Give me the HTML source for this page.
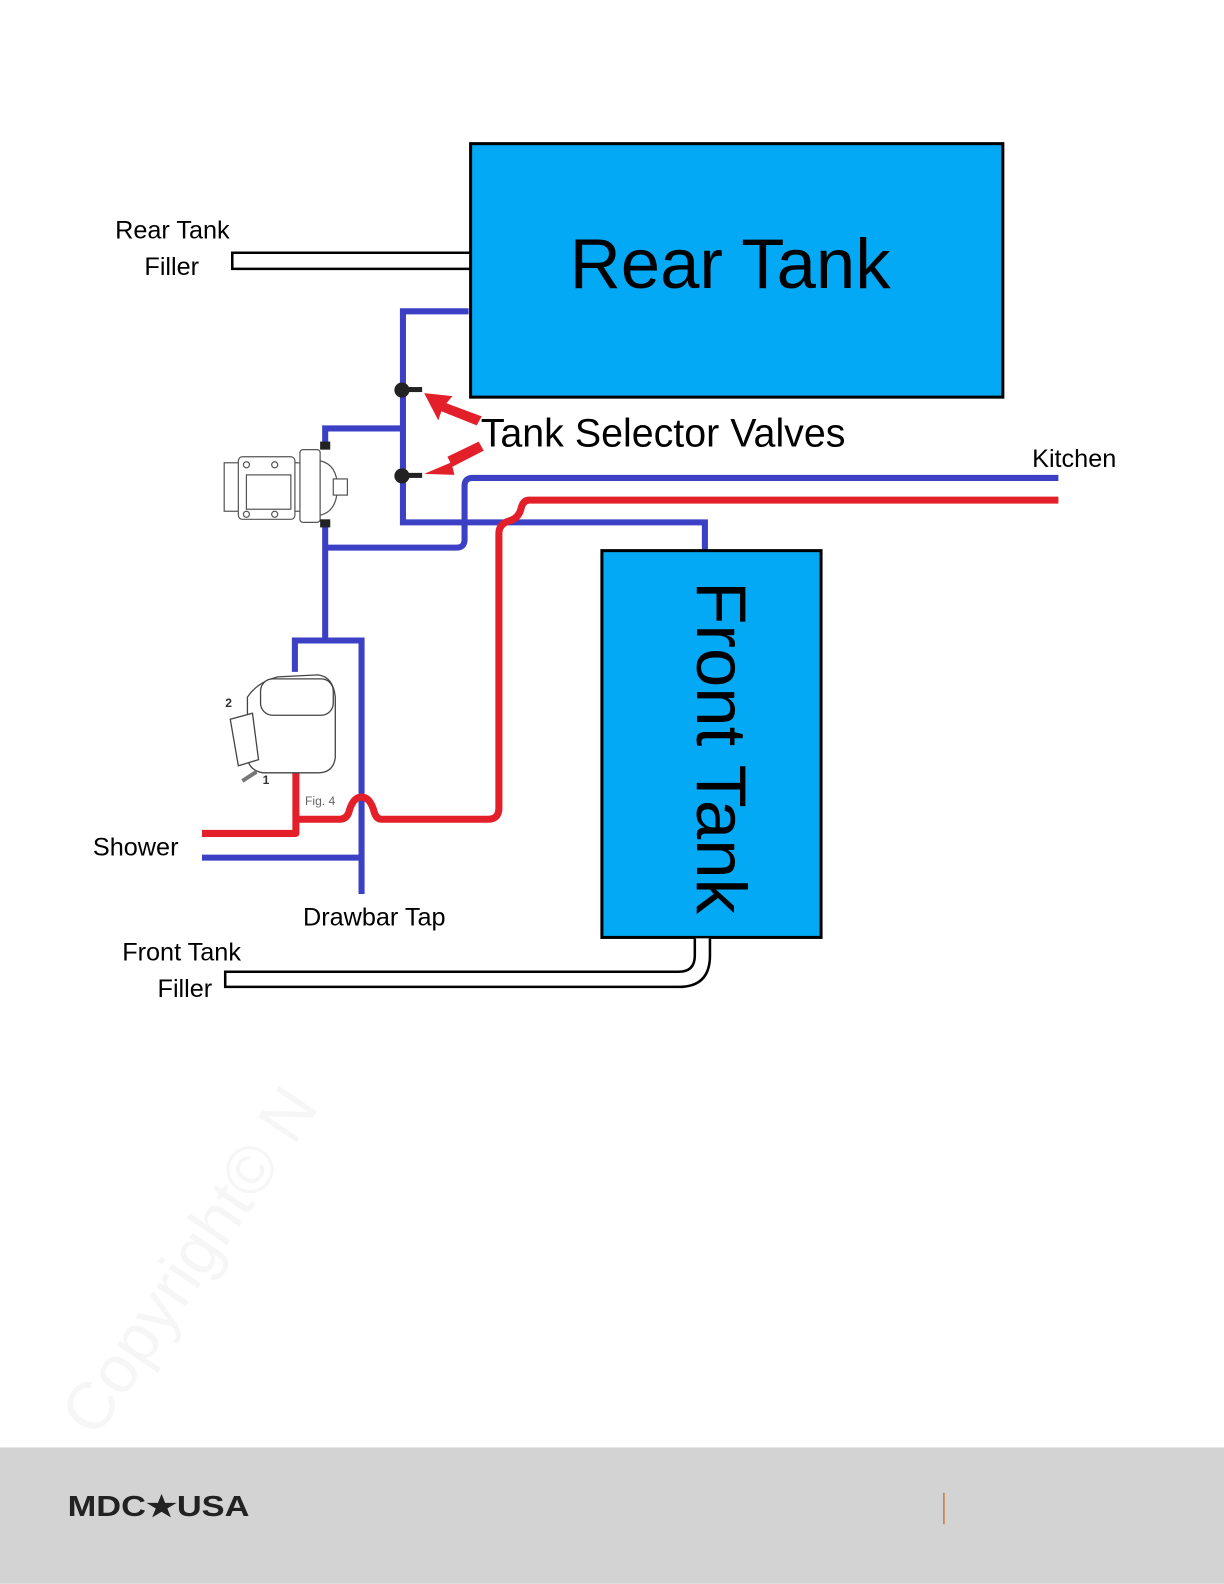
<!DOCTYPE html>
<html><head><meta charset="utf-8"><style>
html,body{margin:0;padding:0;background:#fff;}
svg{display:block;}
text{font-family:"Liberation Sans",sans-serif;}
</style></head><body>
<svg width="1224" height="1584" viewBox="0 0 1212 1568" xmlns="http://www.w3.org/2000/svg">
<rect x="0" y="0" width="1212" height="1568" fill="#fff"/>
<!-- watermark -->
<text x="0" y="0" font-size="66" fill="#f6f6f6" transform="translate(95,1425) rotate(-56)">Copyright© N</text>

<!-- Rear tank filler -->
<path d="M466,250 H230 V266 H466" fill="#fff" stroke="#000" stroke-width="2.5"/>
<text x="114" y="236" font-size="25">Rear Tank</text>
<text x="143" y="272" font-size="25">Filler</text>

<!-- Rear tank -->
<rect x="466" y="142" width="527" height="251" fill="#03a9f4" stroke="#000" stroke-width="3"/>
<text x="723" y="285" font-size="70" text-anchor="middle">Rear Tank</text>

<!-- blue pipes -->
<g fill="none" stroke="#3b40c4" stroke-width="6" stroke-linejoin="miter">
<path d="M464,308 H399 V517 H698 V545"/>
<path d="M399,424 H322 V442"/>
<path d="M322,518 V632"/>
<path d="M322,542 H452 Q460,542 460,534 V481 Q460,473 468,473 H1048"/>
<path d="M292,665 V634 H358 V885"/>
<path d="M200,849 H358"/>
</g>
<!-- red pipes -->
<g fill="none" stroke="#e3202a" stroke-width="7" stroke-linejoin="round">
<path d="M1048,495 H524 Q518,495 516,503 Q514,512 506,515 Q494,518 494,528 V800 Q494,811 483,811 H378 Q372,811 370,802 Q366,789 358,789 Q350,789 346,802 Q344,811 336,811 H293"/>
<path d="M293,765 V825 H200"/>
</g>

<!-- valves -->
<g fill="#222">
<circle cx="398" cy="386" r="7.5"/><rect x="398" y="383" width="20" height="5"/>
<circle cx="398" cy="471" r="7.5"/><rect x="398" y="468" width="20" height="5"/>
</g>
<!-- red arrows -->
<g fill="#e3202a">
<polygon points="420,389 448,392 442,399 477,412 472,421 437,407 434,416"/>
<polygon points="420,469 446,458 443,452 474,437 479,446 448,462 450,470"/>
</g>
<text x="476" y="442" font-size="39">Tank Selector Valves</text>
<text x="1022" y="462" font-size="25">Kitchen</text>

<!-- pump -->
<g fill="#fff" stroke="#555" stroke-width="1.2">
<rect x="222" y="458" width="78" height="48"/>
<rect x="236" y="452" width="56" height="62" rx="4"/>
<rect x="244" y="470" width="44" height="34"/>
<rect x="297" y="445" width="20" height="72" rx="3"/>
<path d="M317,456 Q334,460 334,482 Q334,506 317,510 Z"/>
<rect x="330" y="474" width="14" height="16"/>
<circle cx="244" cy="460" r="3"/><circle cx="272" cy="460" r="3"/>
<circle cx="244" cy="509" r="3"/><circle cx="272" cy="509" r="3"/>
</g>
<rect x="317" y="437" width="10" height="8" fill="#222"/>
<rect x="317" y="514" width="10" height="8" fill="#222"/>

<!-- water heater -->
<g fill="#fff" stroke="#444" stroke-width="1.3">
<path d="M245,690 Q255,675 275,670 L315,668 Q330,670 332,690 L332,750 Q330,765 315,765 L260,765 Q245,762 245,748 Z"/>
<rect x="258" y="672" width="72" height="36" rx="12"/>
<path d="M228,712 L250,706 L256,752 L236,758 Z"/>
</g>
<text x="223" y="700" font-size="12" font-weight="bold" fill="#333">2</text>
<text x="260" y="776" font-size="12" font-weight="bold" fill="#333">1</text>
<path d="M240,773 L254,764" stroke="#777" stroke-width="4"/>
<text x="302" y="797" font-size="12" fill="#666">Fig. 4</text>

<text x="92" y="847" font-size="25">Shower</text>
<text x="300" y="916" font-size="25">Drawbar Tap</text>

<!-- Front tank -->
<rect x="596" y="545" width="217" height="383" fill="#03a9f4" stroke="#000" stroke-width="3"/>
<text x="0" y="0" font-size="70" text-anchor="middle" transform="translate(690,740) rotate(90)">Front Tank</text>

<!-- Front tank filler -->
<path d="M688,929 V946 Q688,962 672,962 H223 V977 H672 Q703,977 703,946 V929" fill="#fff" stroke="#000" stroke-width="2.5"/>
<text x="121" y="951" font-size="25">Front Tank</text>
<text x="156" y="987" font-size="25">Filler</text>

<!-- footer -->
<rect x="0" y="1433" width="1212" height="135" fill="#d3d3d3"/>
<text x="67" y="1501" font-size="28" font-weight="bold" fill="#222" textLength="180" lengthAdjust="spacingAndGlyphs">MDC★USA</text>
<rect x="934" y="1478" width="1.3" height="31" fill="#d2691e"/>
</svg>
</body></html>
